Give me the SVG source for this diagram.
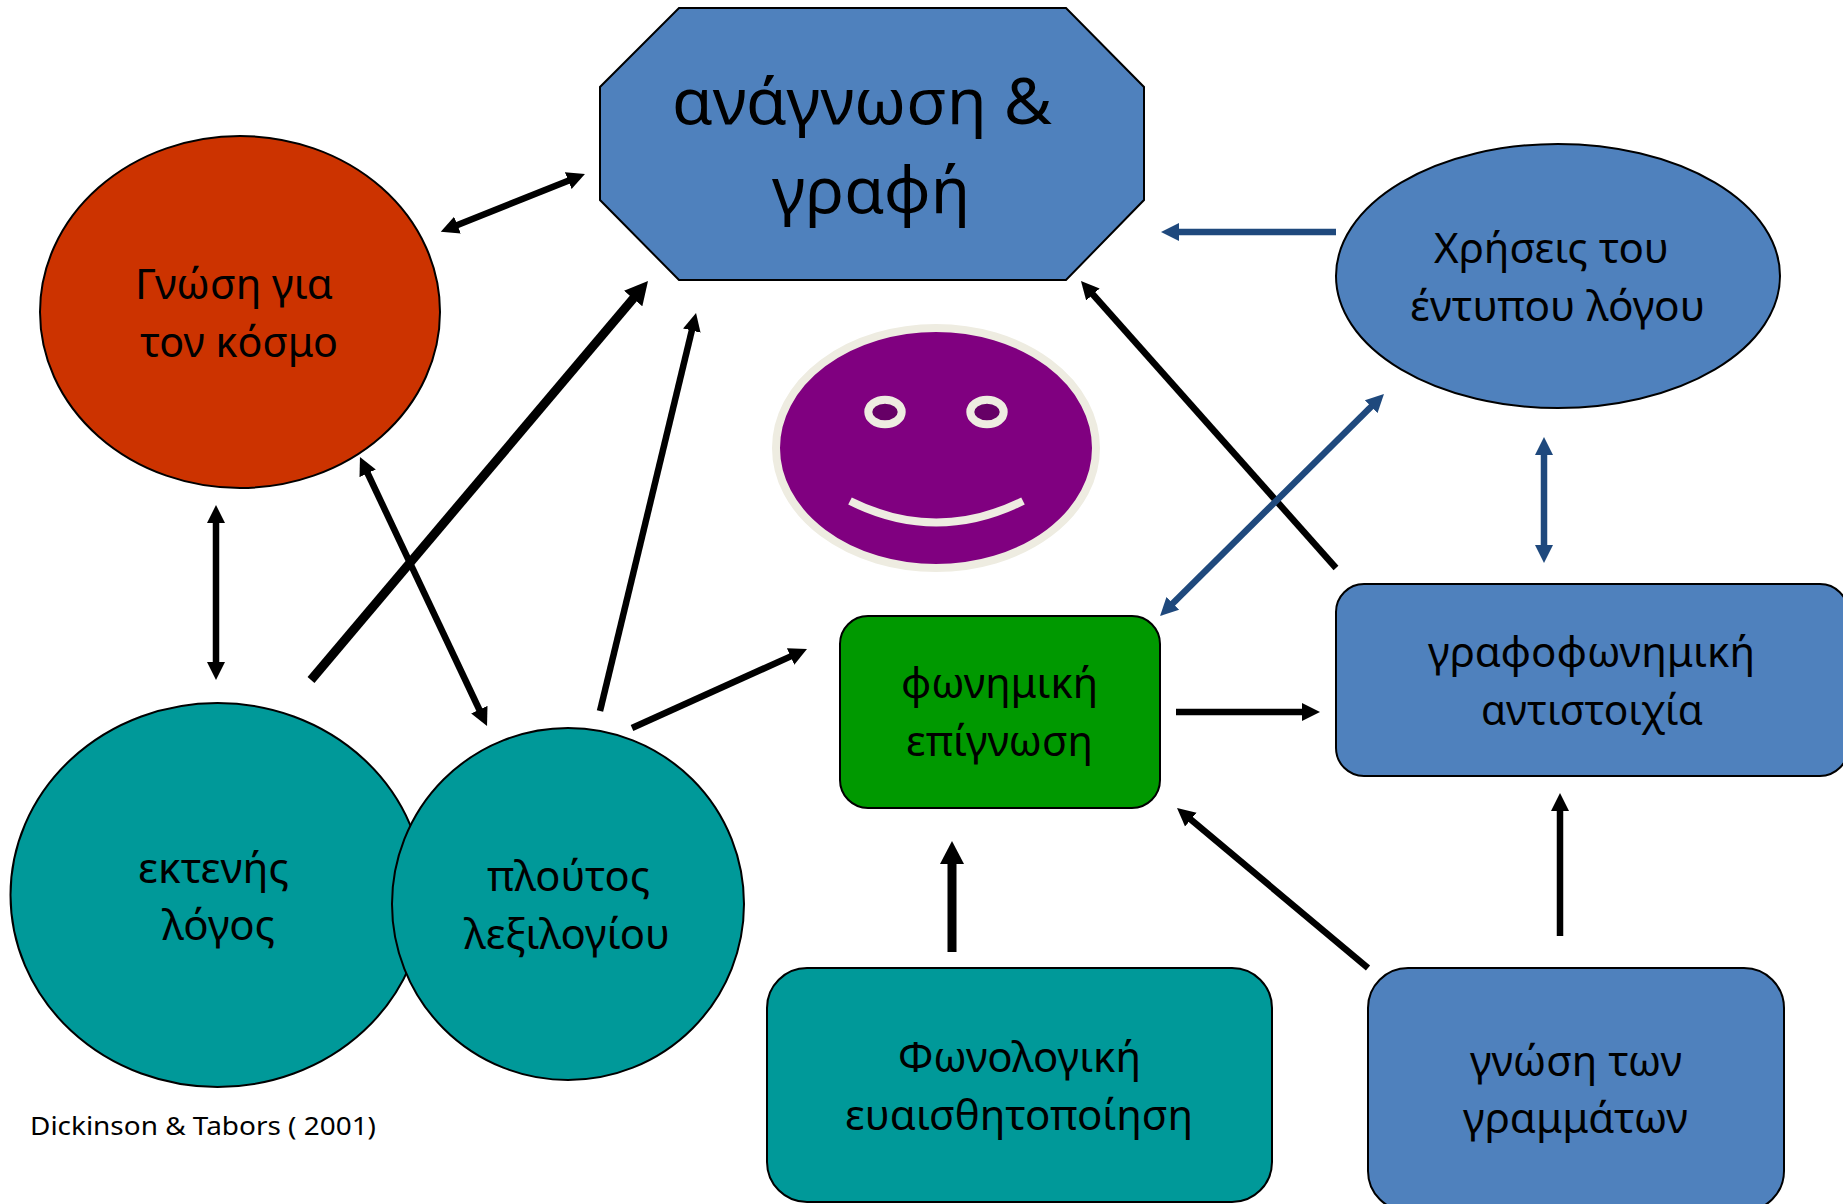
<svg xmlns="http://www.w3.org/2000/svg" width="1843" height="1204" viewBox="0 0 1843 1204">
<style>
text{font-family:"Noto Sans","Open Sans","DejaVu Sans",sans-serif;fill:#000;font-size:41px}
.big{font-size:64px}
.small{font-size:26px}
.n{stroke:#000;stroke-width:2}
.blue{fill:#4F81BD}
.teal{fill:#009999}
.k{stroke:#000;fill:none;stroke-width:6.5}
.b{stroke:#1F497D;fill:none;stroke-width:6.5}
.ke{marker-end:url(#hk)}
.kl{marker-end:url(#hl);stroke-width:9}
.kd{marker-end:url(#hk);marker-start:url(#hk)}
.be{marker-end:url(#hb)}
.bd{marker-end:url(#hb);marker-start:url(#hb)}
.face{stroke:#EEECE1;stroke-width:8}
</style>
<defs>
<marker id="hk" markerUnits="userSpaceOnUse" markerWidth="24" markerHeight="20" refX="2" refY="10" orient="auto-start-reverse" viewBox="0 0 24 20"><path d="M0,1 L18,10 L0,19 Z" fill="#000"/></marker>
<marker id="hb" markerUnits="userSpaceOnUse" markerWidth="24" markerHeight="20" refX="2" refY="10" orient="auto-start-reverse" viewBox="0 0 24 20"><path d="M0,1 L18,10 L0,19 Z" fill="#1F497D"/></marker>
<marker id="hl" markerUnits="userSpaceOnUse" markerWidth="28" markerHeight="26" refX="3" refY="13" orient="auto" viewBox="0 0 28 26"><path d="M0,1 L23,13 L0,25 Z" fill="#000"/></marker>
</defs>
<rect width="1843" height="1204" fill="#fff"/>
<g id="node-reading"><polygon class="n blue" points="679,8 1066,8 1144,87 1144,200 1066,280 679,280 600,200 600,87"/><text class="big" x="672" y="124" textLength="380" lengthAdjust="spacingAndGlyphs">ανάγνωση &amp;</text><text class="big" x="772" y="213" textLength="198" lengthAdjust="spacingAndGlyphs">γραφή</text></g>
<g id="node-world"><ellipse class="n" cx="240" cy="312" rx="200" ry="176" fill="#CC3300"/><text x="135" y="299" textLength="198" lengthAdjust="spacingAndGlyphs">Γνώση για</text><text x="140" y="357" textLength="198" lengthAdjust="spacingAndGlyphs">τον κόσμο</text></g>
<g id="node-discourse"><ellipse class="n teal" cx="217.5" cy="895" rx="207" ry="192"/><text x="138" y="883" textLength="151" lengthAdjust="spacingAndGlyphs">εκτενής</text><text x="162" y="940" textLength="113" lengthAdjust="spacingAndGlyphs">λόγος</text></g>
<g id="node-vocabulary"><ellipse class="n teal" cx="568" cy="904" rx="176" ry="176"/><text x="487" y="891" textLength="163" lengthAdjust="spacingAndGlyphs">πλούτος</text><text x="464" y="949" textLength="206" lengthAdjust="spacingAndGlyphs">λεξιλογίου</text></g>
<g id="node-smiley"><ellipse class="face" cx="936" cy="448" rx="160" ry="120" fill="#800080"/><ellipse class="face" cx="885" cy="412" rx="16.7" ry="12.3" fill="#660066"/><ellipse class="face" cx="987" cy="412" rx="16.7" ry="12.3" fill="#660066"/><path class="face" d="M850,501 Q936,544 1023,501" fill="none"/></g>
<g id="node-uses"><ellipse class="n blue" cx="1558" cy="276" rx="222" ry="132"/><text x="1434" y="263" textLength="235" lengthAdjust="spacingAndGlyphs">Χρήσεις του</text><text x="1410" y="321" textLength="295" lengthAdjust="spacingAndGlyphs">έντυπου λόγου</text></g>
<g id="node-grapheme"><rect class="n blue" x="1336" y="584" width="512" height="192" rx="28"/><text x="1428" y="667" textLength="327" lengthAdjust="spacingAndGlyphs">γραφοφωνημική</text><text x="1481" y="725" textLength="222" lengthAdjust="spacingAndGlyphs">αντιστοιχία</text></g>
<g id="node-phonemic"><rect class="n" x="840" y="616" width="320" height="192" rx="28" fill="#009900"/><text x="901" y="698" textLength="197" lengthAdjust="spacingAndGlyphs">φωνημική</text><text x="906" y="756" textLength="187" lengthAdjust="spacingAndGlyphs">επίγνωση</text></g>
<g id="node-phonological"><rect class="n teal" x="767" y="968" width="505" height="234" rx="40"/><text x="898" y="1072" textLength="243" lengthAdjust="spacingAndGlyphs">Φωνολογική</text><text x="845" y="1130" textLength="348" lengthAdjust="spacingAndGlyphs">ευαισθητοποίηση</text></g>
<g id="node-letters"><rect class="n blue" x="1368" y="968" width="416" height="243" rx="40"/><text x="1470" y="1076" textLength="212" lengthAdjust="spacingAndGlyphs">γνώση των</text><text x="1463" y="1133" textLength="225" lengthAdjust="spacingAndGlyphs">γραμμάτων</text></g>
<g id="citation"><text class="small" x="30" y="1135" textLength="346" lengthAdjust="spacingAndGlyphs">Dickinson &amp; Tabors ( 2001)</text></g>
<g id="connectors">
<line class="k kd" x1="455.6" y1="225.8" x2="570.1" y2="179.9"/>
<line class="k kd" x1="216" y1="521" x2="216" y2="664"/>
<line class="k kd" x1="366.8" y1="471.5" x2="480.2" y2="711.5"/>
<line class="k kl" x1="311" y1="680" x2="635.1" y2="296.3"/>
<line class="k ke" x1="600" y1="711" x2="692.3" y2="328.6"/>
<line class="k ke" x1="632" y1="728" x2="792.4" y2="655.6"/>
<line class="k ke" x1="1336" y1="568" x2="1091.6" y2="293"/>
<line class="b be" x1="1336" y1="232" x2="1177" y2="232"/>
<line class="b bd" x1="1372.6" y1="405.3" x2="1171.4" y2="604.7"/>
<line class="b bd" x1="1544" y1="453" x2="1544" y2="547"/>
<line class="k ke" x1="1176" y1="712" x2="1304" y2="712"/>
<line class="k kl" x1="952" y1="952" x2="952" y2="861"/>
<line class="k ke" x1="1368" y1="968" x2="1189.3" y2="818.3"/>
<line class="k ke" x1="1560" y1="936" x2="1560" y2="809"/>
</g>
</svg>
